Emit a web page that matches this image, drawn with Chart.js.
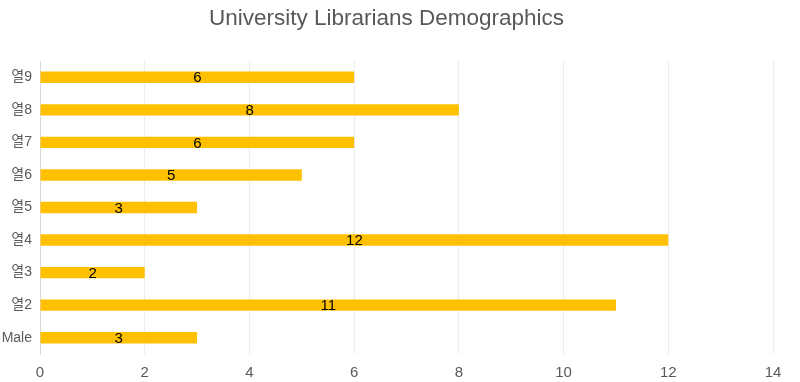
<!DOCTYPE html>
<html>
<head>
<meta charset="utf-8">
<script src="https://cdn.jsdelivr.net/npm/chart.js@4"></script>
<style>
html,body{margin:0;padding:0;background:#fff;}
#wrap{width:800px;height:382px;}
</style>
</head>
<body>
<div id="wrap"><canvas id="c" width="800" height="382"></canvas></div>
<script>
const categories = ["열9", "열8", "열7", "열6", "열5", "열4", "열3", "열2", "Male"];
const values = [6, 8, 6, 5, 3, 12, 2, 11, 3];
const xTicks = [0, 2, 4, 6, 8, 10, 12, 14];
const titleText = "University Librarians Demographics";

const FONT = "'Liberation Sans', Arial, 'Noto Sans CJK KR', sans-serif";

const centerLabels = {
  id: 'centerLabels',
  afterDatasetsDraw(chart) {
    const ctx = chart.ctx;
    const meta = chart.getDatasetMeta(0);
    ctx.save();
    ctx.font = "15px " + FONT;
    ctx.fillStyle = "#000";
    ctx.textAlign = "center";
    ctx.textBaseline = "middle";
    meta.data.forEach((bar, i) => {
      const x = (bar.x + bar.base) / 2;
      ctx.fillText(String(values[i]), x, bar.y + 1);
    });
    ctx.restore();
  }
};

new Chart(document.getElementById('c'), {
  type: 'bar',
  data: {
    labels: categories,
    datasets: [{
      data: values,
      backgroundColor: '#FFC000',
      borderWidth: 0,
      categoryPercentage: 1,
      barPercentage: 0.35
    }]
  },
  options: {
    indexAxis: 'y',
    responsive: false,
    animation: false,
    devicePixelRatio: 1,
    layout: { padding: { left: 0, right: 27, top: 5, bottom: 0 } },
    plugins: {
      legend: { display: false },
      tooltip: { enabled: false },
      title: {
        display: true,
        text: titleText,
        color: '#595959',
        font: { family: FONT, size: 22.5, weight: 'normal' },
        padding: { top: 0, bottom: 29 }
      }
    },
    scales: {
      x: {
        min: 0, max: 14,
        afterBuildTicks(scale) { scale.ticks = xTicks.map(v => ({ value: v })); },
        afterFit(scale) { scale.paddingLeft = 0; scale.paddingRight = 0; scale.height = 28; },
        grid: { color: '#ececec', drawTicks: false },
        border: { display: false },
        ticks: { color: '#595959', font: { family: FONT, size: 15 }, padding: 10 }
      },
      y: {
        afterFit(scale) { scale.paddingTop = 0; scale.paddingBottom = 0; scale.width = 40; },
        grid: { display: false, drawTicks: false },
        border: { display: true, color: '#d9d9d9' },
        ticks: { color: '#595959', font: { family: FONT, size: 14 }, padding: 8 }
      }
    }
  },
  plugins: [centerLabels]
});
</script>
</body>
</html>
